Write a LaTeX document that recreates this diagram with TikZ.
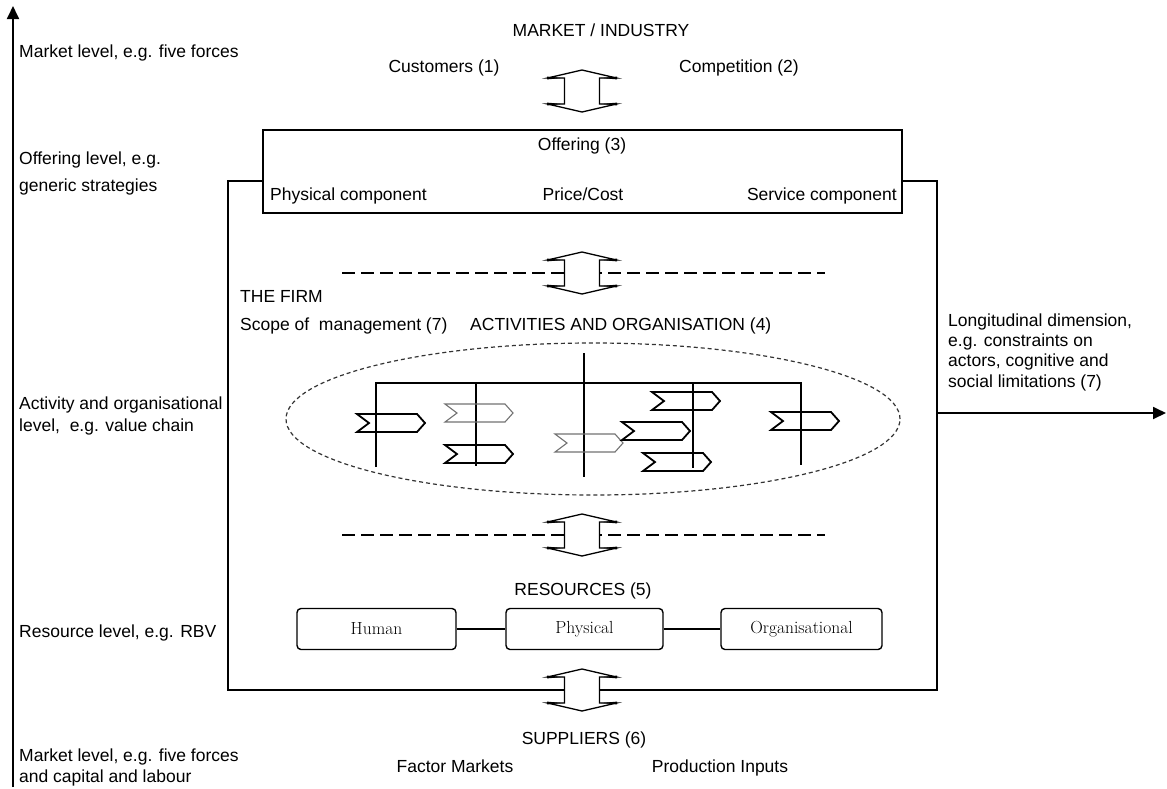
\documentclass[tikz,border=0pt]{standalone}
\usepackage{fontspec}
\setsansfont{Liberation Sans}
\usetikzlibrary{arrows.meta}

\tikzset{
  % two-headed block arrow with heavy barbs
  dblarrow/.pic={
    \draw[line width=1.3pt, fill=white, line join=miter]
      (-17.5,-13) -- (-34.5,-13) -- (0,-21) -- (34.5,-13) -- (17.5,-13) --
      (17.5,13) -- (34.5,13) -- (0,21) -- (-34.5,13) -- (-17.5,13) -- cycle;
    \foreach \sx in {-1,1} \foreach \sy in {-1,1}
      \fill (\sx*35,\sy*13-1.4) -- (\sx*19,\sy*13) -- (\sx*35,\sy*13+1.4) -- cycle;
  },
  % value-chain chevron, origin at its top-left corner
  chev/.pic={
    \draw[line join=miter] (0,0) -- (60,0) -- (68,9) -- (60,18) -- (0,18) -- (12,9) -- cycle;
  }
}

\begin{document}
\begin{tikzpicture}[x=1pt,y=-1pt,
  lbl/.style={font=\sffamily\fontsize{17.5}{21}\selectfont, inner sep=0pt,
              text height=12.5pt, text depth=3.5pt},
  frame/.style={line width=1.4pt},
  axis/.style={line width=1.8pt, -{Triangle[length=13pt,width=12pt]}},
  thickdash/.style={line width=2.3pt, dash pattern=on 13pt off 6pt},
  orgline/.style={line width=1.3pt},
  boldchev/.style={line width=1.8pt},
  lightchev/.style={line width=1.1pt, draw=black!55},
  resbox/.style={draw, line width=1.4pt, rounded corners=4pt, minimum height=41pt,
                 inner sep=0pt, font=\rmfamily\fontsize{17.5}{20}\selectfont}
]
\useasboundingbox (0,0) rectangle (1167,788);
\fill[white] (0,0) rectangle (1167,788);

% ---------- dimension axes ----------
\coordinate (axbot) at (13,787);
\coordinate (axtop) at (13,6);
\draw[axis] (axbot) -- (axtop);

\node[lbl, anchor=west] (lv1) at (19,53) {Market level, e.g. five forces};
\node[lbl, anchor=west] (lv2a) at (19,160) {Offering level, e.g.};
\node[lbl, anchor=west] (lv2b) at (19,187) {generic strategies};
\node[lbl, anchor=west] (lv3a) at (19,405) {Activity and organisational};
\node[lbl, anchor=west] (lv3b) at (19,427) {level,\ \ e.g. value chain};
\node[lbl, anchor=west] (lv4) at (19,633) {Resource level, e.g. RBV};
\node[lbl, anchor=west] (lv5a) at (19,757) {Market level, e.g. five forces};
\node[lbl, anchor=west] (lv5b) at (19,778) {and capital and labour};

% ---------- market ----------
\node[lbl] (market) at (601,32) {MARKET / INDUSTRY};
\node[lbl] (cust) at (444,68) {Customers (1)};
\node[lbl] (comp) at (739,68) {Competition (2)};

% ---------- the firm outline ----------
\draw[frame] (263,181) -- (228,181) -- (228,690) -- (937,690) -- (937,181) -- (902,181);

% ---------- offering ----------
\node[draw, frame, minimum width=639pt, minimum height=83pt, inner sep=0pt] (offering) at (582.5,171.5) {};
\node[lbl] (offt) at (582,146) {Offering (3)};
\node[lbl, anchor=west] (phys) at (270,196) {Physical component};
\node[lbl] (price) at (583,196) {Price/Cost};
\node[lbl, anchor=east] (serv) at (897,196) {Service component};

\pic at (582,91) {dblarrow};

% ---------- activities ----------
\draw[thickdash] (342,273) -- (825,273);
\pic at (582,273) {dblarrow};

\node[lbl, anchor=west] (firm) at (240,298) {THE FIRM};
\node[lbl, anchor=west] (scope) at (240,326) {Scope of\ \ management (7)};
\node[lbl, anchor=west] (act) at (470,326) {ACTIVITIES AND ORGANISATION (4)};

\node[lbl, anchor=west] (long1) at (948,322) {Longitudinal dimension,};
\node[lbl, anchor=west] (long2) at (948,342) {e.g. constraints on};
\node[lbl, anchor=west] (long3) at (948,362) {actors, cognitive and};
\node[lbl, anchor=west] (long4) at (948,383) {social limitations (7)};
\coordinate (longs) at (937,413);
\coordinate (longe) at (1166,413);
\draw[axis] (longs) -- (longe);

\draw[line width=1.2pt, black!80, dash pattern=on 4pt off 3pt] (593,419) ellipse [x radius=307pt, y radius=76pt];

% organisation chart
\draw[orgline] (376,467) -- (376,383) -- (801,383) -- (801,465);
\draw[orgline] (476,383) -- (476,466);
\draw[orgline] (693,383) -- (693,468);
\draw[orgline] (584,353) -- (584,477);

% value-chain chevrons
\pic[boldchev] at (357,414) {chev};
\pic[lightchev] at (445,404) {chev};
\pic[boldchev] at (445,445) {chev};
\pic[lightchev] at (555,434) {chev};
\pic[boldchev] at (652,392) {chev};
\pic[boldchev] at (622,422) {chev};
\pic[boldchev] at (643,453) {chev};
\pic[boldchev] at (771,412) {chev};

% ---------- resources ----------
\draw[thickdash] (342,535) -- (825,535);
\pic at (582,535) {dblarrow};

\node[lbl] (res) at (583,591) {RESOURCES (5)};
\node[resbox, minimum width=159pt] (human) at (376.5,629) {Human};
\node[resbox, minimum width=157pt] (physical) at (584.5,629) {Physical};
\node[resbox, minimum width=161pt] (org) at (801.5,629) {Organisational};
\draw[line width=1.3pt] (human) -- (physical);
\draw[line width=1.3pt] (physical) -- (org);

% ---------- suppliers ----------
\pic at (582,690) {dblarrow};
\node[lbl] (supp) at (584,740) {SUPPLIERS (6)};
\node[lbl] (factor) at (455,768) {Factor Markets};
\node[lbl] (prod) at (720,768) {Production Inputs};
\end{tikzpicture}
\end{document}
